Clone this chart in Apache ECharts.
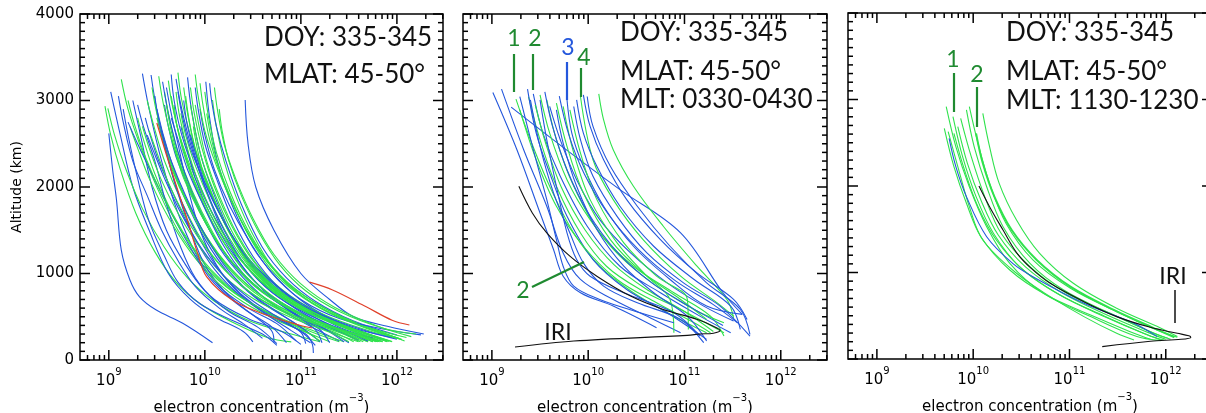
<!DOCTYPE html>
<html><head><meta charset="utf-8">
<script src="https://cdn.jsdelivr.net/npm/echarts@6/dist/echarts.min.js"></script>
<style>html,body{margin:0;padding:0;background:#fff}#c{width:1206px;height:413px}</style>
</head><body><div id="c"></div>
<script>
// ---------- axis definitions (x values are log10 of electron concentration, m^-3) ----------
const X_MIN = 8.7, X_MAX = 12.48;
const Y_MIN = 0, Y_MAX = 4000, Y_STEP = 1000, Y_MINOR_STEP = 100;
const X_MAJOR = [9, 10, 11, 12];
const X_MINOR_MANTISSA = [2, 3, 4, 5, 6, 7, 8, 9];
const X_DECADES = [8, 9, 10, 11, 12];

// ---------- panel 1 : all profiles ----------
const P1_BLUE = [
 [[9.0,2620],[9.04,2200],[9.08,1850],[9.13,1270],[9.22,925],[9.32,730],[9.49,580],[9.77,425],[10.08,200]],
 [[9.02,3100],[9.12,2600],[9.25,2000],[9.42,1500],[9.62,1000],[9.85,700],[10.1,500],[10.4,330],[10.5,210]],
 [[9.25,3000],[9.33,2600],[9.45,2000],[9.6,1500],[9.8,1100],[10.0,800],[10.25,560],[10.55,380],[10.75,190]],
 [[9.35,3310],[9.42,2900],[9.55,2300],[9.72,1700],[9.92,1200],[10.15,850],[10.45,600],[10.75,420],[10.95,220]],
 [[9.44,3295],[9.5,2900],[9.62,2400],[9.78,1900],[10.0,1400],[10.25,1000],[10.55,700],[10.9,450],[11.15,260]],
 [[9.56,3217],[9.63,2800],[9.75,2300],[9.92,1800],[10.15,1300],[10.4,950],[10.7,650],[11.05,420],[11.4,220]],
 [[9.82,3267],[9.86,2900],[9.95,2400],[10.1,1900],[10.3,1400],[10.55,1000],[10.85,700],[11.2,460],[11.6,220]],
 [[10.01,3217],[10.05,2800],[10.13,2300],[10.28,1800],[10.5,1300],[10.75,950],[11.05,650],[11.4,430],[11.85,230]],
 [[10.42,3006],[10.45,2500],[10.53,2000],[10.72,1500],[11.0,1000],[11.3,700],[11.55,500],[11.9,390],[12.28,300]],
 [[9.15,2900],[9.2,2600],[9.3,2100],[9.42,1600],[9.58,1200],[9.72,900],[9.95,650],[10.3,450],[10.6,300],[10.75,170]],
 [[9.3,2950],[9.36,2700],[9.48,2300],[9.6,1800],[9.75,1300],[9.9,950],[10.1,700],[10.45,480],[10.8,330],[11.0,180]],
 [[9.6,3150],[9.65,2850],[9.72,2500],[9.82,2000],[9.95,1500],[10.12,1100],[10.35,780],[10.65,530],[11.0,330],[11.15,170]],
 [[9.7,3250],[9.75,2950],[9.85,2500],[10.0,2000],[10.18,1500],[10.38,1100],[10.62,800],[10.95,560],[11.25,360],[11.45,210]],
 [[9.48,3050],[9.52,2750],[9.6,2400],[9.7,2000],[9.85,1500],[10.0,1100],[10.2,800],[10.45,560],[10.7,380],[10.85,200]],
 [[9.1,3050],[9.15,2750],[9.25,2300],[9.4,1900],[9.55,1500],[9.72,1150],[9.9,850],[10.15,600],[10.4,420],[10.6,250]],
 [[9.38,2800],[9.43,2600],[9.52,2300],[9.68,1900],[9.9,1400],[10.1,1050],[10.35,760],[10.65,520],[10.9,340],[11.1,200]],
 [[9.9,3150],[9.93,2900],[10.0,2500],[10.12,2100],[10.3,1600],[10.5,1200],[10.75,860],[11.05,600],[11.4,380],[11.75,250]],
 [[10.05,3200],[10.07,3000],[10.12,2700],[10.22,2300],[10.38,1800],[10.6,1300],[10.85,950],[11.15,680],[11.55,450],[12.0,290]],
 [[9.75,2700],[9.8,2500],[9.9,2100],[10.05,1700],[10.25,1300],[10.45,1000],[10.7,720],[11.0,500],[11.3,330],[11.5,200]],
 [[9.55,2650],[9.6,2400],[9.7,2000],[9.85,1600],[10.05,1200],[10.25,900],[10.5,650],[10.8,450],[11.05,300],[11.12,180],[11.13,80]],
 [[9.2,2750],[9.3,2500],[9.45,2150],[9.65,1700],[9.85,1300],[10.05,950],[10.3,680],[10.55,480],[10.7,330],[10.72,200]],
 [[9.65,2800],[9.72,2550],[9.82,2200],[9.98,1800],[10.18,1350],[10.4,1000],[10.65,750],[10.95,520],[11.2,350],[11.3,200]],
 [[9.95,2900],[10.0,2600],[10.1,2200],[10.25,1800],[10.45,1400],[10.7,1000],[11.0,700],[11.4,480],[11.9,350],[12.25,290]],
 [[9.5,2900],[9.55,2650],[9.65,2300],[9.8,1900],[10.0,1450],[10.2,1100],[10.45,800],[10.75,560],[11.0,380],[11.2,210]],
 [[9.78,3000],[9.82,2700],[9.9,2350],[10.02,1950],[10.2,1500],[10.42,1100],[10.7,780],[11.05,540],[11.45,340],[11.7,220]],
 [[9.65,3300],[9.68,3000],[9.76,2600],[9.9,2150],[10.1,1650],[10.35,1200],[10.62,860],[10.95,590],[11.3,380],[11.6,230]],
 [[9.85,2600],[9.9,2400],[10.0,2050],[10.15,1700],[10.35,1330],[10.6,1000],[10.9,730],[11.25,510],[11.7,330],[12.0,240]],
 [[9.4,2600],[9.47,2400],[9.58,2100],[9.75,1700],[9.96,1300],[10.2,970],[10.48,700],[10.78,480],[11.0,320],[11.05,190]],
 [[9.58,2950],[9.62,2700],[9.7,2350],[9.85,1950],[10.05,1500],[10.3,1100],[10.6,790],[10.92,540],[11.15,350],[11.22,200]],
 [[9.72,3100],[9.76,2850],[9.85,2450],[10.0,2050],[10.2,1600],[10.44,1180],[10.74,840],[11.1,580],[11.55,370],[11.95,260]]
];
const P1_GREEN = [
 [[8.96,2936],[9.02,2600],[9.12,2200],[9.28,1700],[9.48,1250],[9.7,900],[9.95,650],[10.3,430],[10.65,260],[10.9,210]],
 [[8.99,2910],[9.06,2600],[9.18,2200],[9.35,1750],[9.58,1300],[9.82,950],[10.1,680],[10.45,460],[10.9,300],[11.2,210]],
 [[9.13,3244],[9.2,2900],[9.32,2500],[9.5,2000],[9.72,1500],[9.98,1100],[10.3,780],[10.7,520],[11.1,330],[11.4,210]],
 [[9.72,3322],[9.76,3000],[9.85,2600],[9.98,2150],[10.15,1700],[10.38,1250],[10.65,900],[11.0,620],[11.45,380],[11.85,210]],
 [[9.58,3100],[9.63,2800],[9.72,2400],[9.87,1950],[10.07,1500],[10.3,1100],[10.6,780],[10.98,540],[11.45,330],[11.8,210]],
 [[10.08,3006],[10.12,2700],[10.2,2300],[10.32,1900],[10.5,1450],[10.72,1050],[11.0,750],[11.35,520],[11.8,340],[12.08,220]],
 [[9.4,3000],[9.47,2700],[9.58,2300],[9.75,1850],[9.96,1400],[10.2,1050],[10.5,760],[10.88,520],[11.3,330],[11.6,210]],
 [[9.85,3150],[9.89,2850],[9.97,2450],[10.1,2000],[10.28,1550],[10.5,1150],[10.78,820],[11.12,570],[11.55,360],[11.95,215]],
 [[9.65,3050],[9.7,2750],[9.8,2350],[9.95,1900],[10.15,1450],[10.4,1050],[10.7,740],[11.05,510],[11.5,320],[11.75,210]],
 [[9.3,2800],[9.36,2550],[9.48,2150],[9.66,1700],[9.88,1300],[10.12,980],[10.42,700],[10.8,480],[11.2,310],[11.45,210]],
 [[9.9,2950],[9.94,2700],[10.02,2300],[10.15,1900],[10.34,1450],[10.58,1050],[10.88,750],[11.25,520],[11.7,340],[12.0,250]],
 [[9.5,2800],[9.56,2550],[9.66,2200],[9.82,1800],[10.03,1380],[10.28,1020],[10.58,730],[10.95,500],[11.35,320],[11.55,210]],
 [[9.75,2850],[9.8,2600],[9.9,2250],[10.05,1850],[10.25,1420],[10.5,1030],[10.82,730],[11.2,500],[11.65,320],[11.9,215]],
 [[9.22,2700],[9.3,2450],[9.42,2100],[9.62,1650],[9.85,1250],[10.1,930],[10.4,670],[10.75,460],[11.1,300],[11.3,210]],
 [[10.0,3100],[10.04,2800],[10.12,2400],[10.26,1950],[10.45,1500],[10.68,1100],[10.95,790],[11.3,550],[11.75,350],[12.05,240]],
 [[9.62,3230],[9.66,2950],[9.75,2550],[9.9,2100],[10.1,1650],[10.35,1200],[10.65,850],[11.02,580],[11.5,360],[11.85,215]],
 [[9.45,3150],[9.5,2850],[9.6,2450],[9.75,2000],[9.95,1550],[10.2,1150],[10.5,820],[10.88,560],[11.35,350],[11.7,210]],
 [[9.8,3050],[9.84,2750],[9.92,2350],[10.06,1950],[10.24,1500],[10.46,1100],[10.75,780],[11.1,540],[11.55,340],[11.8,215]],
 [[9.55,2600],[9.62,2350],[9.74,2000],[9.9,1650],[10.12,1250],[10.38,930],[10.7,660],[11.08,460],[11.5,300],[11.7,210]],
 [[9.95,3200],[9.98,2950],[10.05,2550],[10.18,2100],[10.36,1650],[10.58,1250],[10.86,900],[11.2,630],[11.65,400],[12.1,260]],
 [[9.68,2950],[9.72,2650],[9.82,2250],[9.98,1800],[10.2,1350],[10.45,980],[10.75,700],[11.12,480],[11.55,310],[11.85,210]],
 [[9.35,2700],[9.42,2450],[9.54,2100],[9.72,1700],[9.95,1300],[10.2,970],[10.52,700],[10.9,490],[11.3,320],[11.5,210]],
 [[10.15,2900],[10.18,2650],[10.25,2300],[10.38,1900],[10.56,1480],[10.78,1100],[11.05,800],[11.4,560],[11.85,370],[12.2,300]],
 [[9.88,2700],[9.92,2450],[10.0,2100],[10.14,1750],[10.32,1350],[10.55,1000],[10.85,720],[11.22,500],[11.65,320],[11.95,210]],
 [[9.2,3000],[9.26,2750],[9.38,2350],[9.56,1900],[9.78,1450],[10.02,1080],[10.32,770],[10.7,520],[11.05,330],[11.2,220]],
 [[9.7,3100],[9.74,2800],[9.83,2400],[9.97,1950],[10.17,1500],[10.42,1100],[10.72,780],[11.08,540],[11.52,340],[11.78,210]],
 [[9.6,2950],[9.65,2650],[9.75,2250],[9.9,1850],[10.1,1420],[10.35,1050],[10.65,750],[11.0,520],[11.42,330],[11.65,210]],
 [[9.78,3150],[9.82,2850],[9.9,2450],[10.03,2050],[10.2,1600],[10.42,1200],[10.7,860],[11.05,600],[11.5,380],[11.9,215]],
 [[9.52,3280],[9.57,2950],[9.67,2500],[9.83,2000],[10.05,1500],[10.32,1080],[10.64,760],[11.02,520],[11.48,330],[11.82,210]],
 [[9.85,2950],[9.9,2650],[9.98,2280],[10.12,1880],[10.3,1450],[10.52,1080],[10.8,780],[11.15,540],[11.6,340],[11.92,215]],
 [[10.02,2850],[10.06,2600],[10.14,2250],[10.28,1850],[10.46,1430],[10.68,1060],[10.96,770],[11.3,540],[11.72,350],[12.05,235]],
 [[9.42,2650],[9.5,2400],[9.62,2050],[9.8,1650],[10.02,1280],[10.28,960],[10.6,690],[11.0,480],[11.42,310],[11.62,210]],
 [[9.62,2700],[9.68,2450],[9.78,2100],[9.94,1720],[10.15,1330],[10.4,990],[10.7,710],[11.06,490],[11.5,315],[11.75,210]],
 [[9.9,3300],[9.93,3050],[10.0,2650],[10.12,2250],[10.3,1780],[10.52,1330],[10.8,950],[11.15,660],[11.6,410],[12.02,250]],
 [[9.75,2550],[9.8,2350],[9.9,2050],[10.05,1700],[10.25,1330],[10.5,1000],[10.8,730],[11.18,500],[11.62,320],[11.9,210]],
 [[10.1,3150],[10.13,2900],[10.2,2500],[10.32,2100],[10.5,1640],[10.72,1220],[11.0,880],[11.35,610],[11.8,390],[12.15,270]]
];
const P1_RED = [
 [[9.5,2740],[9.62,2300],[9.81,1650],[9.92,1250],[10.02,960],[10.29,690],[10.64,520],[10.98,405],[11.12,370]],
 [[11.09,900],[11.33,810],[11.68,615],[11.95,460],[12.13,405]]
];

// ---------- panel 2 : MLT 0330-0430 ----------
const P2_BLUE = [
 [[9.01,3093],[9.26,2431],[9.5,1700],[9.64,1277],[9.74,969],[9.92,777],[10.26,623],[10.71,373]],
 [[9.10,3131],[9.33,2431],[9.57,1777],[9.74,1238],[9.92,931],[10.26,700],[10.68,469],[10.96,315]],
 [[9.2,2923],[9.75,2450],[10.33,1970],[10.96,1470],[11.4,777],[11.6,527]],
 [[9.37,3131],[9.46,2623],[9.60,2162],[9.78,1661],[10.05,1161],[10.40,815],[10.82,546],[11.23,238]],
 [[9.43,3077],[9.53,2623],[9.71,2123],[9.99,1546],[10.33,1084],[10.75,777],[11.16,507],[11.48,315]],
 [[9.60,2931],[9.71,2546],[9.88,2085],[10.12,1623],[10.44,1238],[10.82,892],[11.20,623],[11.51,450]],
 [[9.78,3008],[9.83,2623],[9.95,2239],[10.16,1777],[10.47,1315],[10.85,931],[11.23,623],[11.60,527]],
 [[9.85,2931],[9.92,2546],[10.05,2123],[10.30,1661],[10.61,1238],[10.99,892],[11.37,623],[11.68,277]],
 [[9.88,3008],[9.95,2623],[10.09,2239],[10.33,1777],[10.68,1315],[11.10,931],[11.48,623],[11.58,354]],
 [[9.95,3066],[10.02,2700],[10.16,2315],[10.40,1854],[10.75,1392],[11.13,1007],[11.51,700],[11.65,469]],
 [[9.99,3046],[10.05,2700],[10.23,2239],[10.51,1777],[10.85,1315],[11.23,892],[11.58,584],[11.68,296]],
 [[9.50,3008],[9.57,2546],[9.67,2008],[9.78,1469],[9.88,1161],[10.02,969],[10.37,777],[10.89,546],[11.16,277]],
 [[9.29,3046],[9.43,2431],[9.57,1854],[9.67,1392],[9.74,1084],[9.85,854],[10.12,700],[10.54,546],[10.89,430]],
 [[9.40,3008],[9.50,2469],[9.64,1931],[9.81,1469],[9.95,1123],[10.16,854],[10.51,661],[10.96,469],[11.20,200]],
 [[9.67,2892],[9.74,2508],[9.88,2008],[10.09,1508],[10.37,1084],[10.68,777],[11.03,507],[11.23,219]],
 [[9.55,3100],[9.63,2700],[9.78,2200],[10.0,1700],[10.3,1250],[10.65,900],[11.05,620],[11.4,400]],
 [[9.7,3050],[9.8,2600],[9.96,2150],[10.2,1700],[10.52,1280],[10.9,920],[11.3,640],[11.55,430]]
];
const P2_GREEN = [
 [[9.25,3016],[9.40,2546],[9.60,2008],[9.85,1469],[10.12,1084],[10.47,777],[10.89,507],[11.23,315]],
 [[9.38,3046],[9.50,2546],[9.67,2008],[9.92,1469],[10.19,1084],[10.54,815],[10.96,584],[11.41,315]],
 [[9.50,3066],[9.60,2623],[9.78,2085],[10.02,1623],[10.33,1200],[10.71,854],[11.10,584],[11.41,430]],
 [[9.57,3008],[9.67,2546],[9.85,2008],[10.12,1469],[10.47,1084],[10.89,777],[11.27,507],[11.41,277]],
 [[9.92,3046],[10.05,2315],[10.26,1854],[10.57,1392],[10.96,969],[11.34,661],[11.51,507]],
 [[10.11,3077],[10.16,2777],[10.26,2431],[10.47,2008],[10.78,1546],[11.13,1084],[11.44,700],[11.51,488]],
 [[9.67,2969],[9.78,2469],[9.95,1931],[10.23,1392],[10.57,1007],[10.96,700],[11.23,469]],
 [[9.29,2892],[9.46,2315],[9.67,1777],[9.95,1315],[10.30,931],[10.71,661],[11.10,430],[11.27,315]],
 [[9.74,2931],[9.85,2392],[10.02,1854],[10.30,1354],[10.61,969],[10.85,700],[10.89,315]],
 [[9.81,2892],[9.92,2392],[10.09,1854],[10.37,1354],[10.71,969],[11.03,700],[11.04,354]],
 [[9.45,2950],[9.56,2500],[9.72,2000],[9.97,1500],[10.27,1100],[10.63,800],[11.0,560],[11.3,330]]
];
const P2_IRI = [[9.28,2008],[9.42,1700],[9.57,1470],[9.81,1200],[10.09,969],[10.44,739],[10.78,585],[11.13,470],[11.3,390],[11.37,340],[11.3,310],[11.16,300],[11.03,285],[9.85,219],[9.24,150]];

// ---------- panel 3 : MLT 1130-1230 ----------
const P3_GREEN = [
 [[9.72,2917],[9.82,2455],[9.96,1992],[10.14,1530],[10.38,1106],[10.73,759],[11.22,490],[11.70,259],[11.95,212]],
 [[9.74,2628],[9.86,2146],[9.96,1761],[10.10,1376],[10.45,991],[10.80,721],[11.15,490],[11.49,297],[11.67,220]],
 [[9.79,2801],[9.89,2339],[10.03,1877],[10.21,1453],[10.48,1068],[10.87,759],[11.36,490],[11.81,278],[11.98,220]],
 [[9.87,2782],[9.98,2339],[10.12,1877],[10.29,1453],[10.59,1068],[10.97,759],[11.46,509],[11.88,297],[12.05,228]],
 [[9.96,2917],[10.05,2493],[10.17,2031],[10.34,1569],[10.62,1145],[11.01,817],[11.49,547],[11.91,336],[12.12,251]],
 [[10.10,2840],[10.17,2455],[10.27,2031],[10.45,1607],[10.69,1222],[11.04,875],[11.49,586],[11.95,355],[12.12,259]],
 [[9.70,2667],[9.80,2224],[9.93,1800],[10.08,1414],[10.38,1029],[10.76,740],[11.22,509],[11.63,316],[11.84,228]],
 [[9.80,2609],[9.91,2185],[10.05,1761],[10.24,1376],[10.52,1029],[10.90,740],[11.36,497],[11.77,297],[11.95,220]],
 [[9.93,2879],[10.01,2455],[10.14,1992],[10.31,1530],[10.59,1106],[10.94,798],[11.42,528],[11.84,316],[12.02,239]],
 [[9.84,2686],[9.94,2262],[10.08,1838],[10.26,1434],[10.54,1068],[10.92,767],[11.39,509],[11.82,305],[12.00,228]]
];
const P3_GREEN_BOLD = [
 [[10.03,2609],[10.10,2262],[10.22,1877],[10.40,1491],[10.66,1145],[11.01,836],[11.46,567],[11.88,355],[12.09,251]]
];
const P3_BLUE = [
 [[9.75,2551],[9.82,2224],[9.93,1877],[10.14,1414],[10.41,1106],[10.62,952],[11.15,644],[11.67,413],[11.91,259]]
];
const P3_IRI = [[10.06,2000],[10.17,1761],[10.31,1491],[10.45,1230],[10.6,1050],[10.8,875],[11.15,663],[11.49,490],[11.84,366],[12.12,297],[12.24,268],[12.26,250],[12.16,228],[11.84,205],[11.34,143]];

// ---------- text ----------
const PANEL_TEXT = [
 ['DOY: 335-345', 'MLAT: 45-50°'],
 ['DOY: 335-345', 'MLAT: 45-50°', 'MLT: 0330-0430'],
 ['DOY: 335-345', 'MLAT: 45-50°', 'MLT: 1130-1230']
];

// ---------- build ----------
const BLUE = '#2457dc', GREEN = '#2fe24c', DKGREEN = '#1f8a30', RED = '#e0402a';
const AXIS_FONT = 'DejaVu Sans', NOTE_FONT = 'Lato';
const GRIDS = [
 {left: 80, top: 14, width: 363, height: 346},
 {left: 463, top: 14, width: 364, height: 346},
 {left: 848, top: 13, width: 364, height: 346}
];

const xMinor = [];
X_DECADES.forEach(d => X_MINOR_MANTISSA.forEach(m => {
  const v = d + Math.log10(m);
  if (v > X_MIN && v < X_MAX) xMinor.push(v);
}));

const supRich = {
  b: {fontSize: 15, fontFamily: AXIS_FONT, color: '#000', lineHeight: 22, verticalAlign: 'bottom'},
  s: {fontSize: 10, fontFamily: AXIS_FONT, color: '#000', lineHeight: 12, verticalAlign: 'top'}
};

const grid = GRIDS.map(g => Object.assign({show: true, borderColor: '#000', borderWidth: 1.5, containLabel: false, outerBoundsMode: 'none'}, g));
const xAxis = GRIDS.map((g, i) => ({
  type: 'value', gridIndex: i, min: X_MIN, max: X_MAX, splitNumber: 4,
  axisLine: {show: false}, axisTick: {show: false}, splitLine: {show: false},
  axisLabel: {
    margin: 7,
    formatter: v => Math.abs(v - Math.round(v)) < 1e-6 ? '{b|10}{s|' + Math.round(v) + '}' : '',
    rich: supRich
  },
  name: '{b|electron concentration (m}{s|−3}{b|)}',
  nameLocation: 'middle', nameGap: 23,
  nameTextStyle: {rich: supRich}
}));
const yAxis = GRIDS.map((g, i) => ({
  type: 'value', gridIndex: i, min: Y_MIN, max: Y_MAX, interval: Y_STEP,
  axisLine: {show: false}, axisTick: {show: false}, splitLine: {show: false},
  axisLabel: {show: i === 0, fontSize: 15, fontFamily: AXIS_FONT, color: '#000', margin: 6, formatter: v => String(v)},
  name: i === 0 ? 'Altitude (km)' : '', nameLocation: 'middle', nameGap: 56, nameRotate: 90,
  nameTextStyle: {fontSize: 14, fontFamily: AXIS_FONT, color: '#000'}
}));

const series = [];
const firstSeriesOfGrid = [];
function addCurves(curves, color, gi, width) {
  curves.forEach(c => {
    if (firstSeriesOfGrid[gi] === undefined) firstSeriesOfGrid[gi] = series.length;
    series.push({
      type: 'line', xAxisIndex: gi, yAxisIndex: gi, data: c,
      showSymbol: false, smooth: 0.35, silent: true, z: 2,
      lineStyle: {color: color, width: width || 1.1}
    });
  });
}
function interleave(a, ca, b, cb, gi) {
  const n = Math.max(a.length, b.length);
  for (let i = 0; i < n; i++) {
    if (a[i]) addCurves([a[i]], ca, gi);
    if (b[i]) addCurves([b[i]], cb, gi);
  }
}
interleave(P1_BLUE, BLUE, P1_GREEN, GREEN, 0);
addCurves(P1_RED, RED, 0, 1.2);
interleave(P2_BLUE, BLUE, P2_GREEN, GREEN, 1);
addCurves([P2_IRI], '#111', 1, 1.1);
addCurves(P3_GREEN, GREEN, 2);
addCurves(P3_BLUE, BLUE, 2);
addCurves(P3_GREEN_BOLD, GREEN, 2, 2);
addCurves([P3_IRI], '#111', 2, 1.1);

const chart = echarts.init(document.getElementById('c'), null, {renderer: 'canvas'});
chart.setOption({animation: false, backgroundColor: '#fff', grid, xAxis, yAxis, series});

// ---------- ticks on all four edges (positions from the chart's own scales) + annotations ----------
const graphic = [];
function seg(x1, y1, x2, y2, color, w, z) {
  graphic.push({type: 'line', z: z || 10, silent: true, shape: {x1: x1, y1: y1, x2: x2, y2: y2}, style: {stroke: color, lineWidth: w}});
}
function px(gi, pt) {
  let p = chart.convertToPixel({seriesIndex: firstSeriesOfGrid[gi]}, pt);
  if (!p || !isFinite(p[0]) || !isFinite(p[1])) p = chart.convertToPixel({xAxisIndex: gi, yAxisIndex: gi}, pt);
  return p;
}
const MAJOR_LEN = 10, MINOR_LEN = 5, TICK_W = 1.5;
GRIDS.forEach((g, i) => {
  X_MAJOR.map(v => [v, MAJOR_LEN]).concat(xMinor.map(v => [v, MINOR_LEN])).forEach(([v, len]) => {
    const b = px(i, [v, Y_MIN]), t = px(i, [v, Y_MAX]);
    if (!b || !t) return;
    seg(b[0], b[1], b[0], b[1] - len, '#000', TICK_W, 8);
    seg(t[0], t[1], t[0], t[1] + len, '#000', TICK_W, 8);
  });
  for (let y = Y_MIN; y <= Y_MAX; y += Y_MINOR_STEP) {
    const len = y % Y_STEP === 0 ? MAJOR_LEN : MINOR_LEN;
    const l = px(i, [X_MIN, y]), r = px(i, [X_MAX, y]);
    if (!l || !r) continue;
    seg(l[0], l[1], l[0] + len, l[1], '#000', TICK_W, 8);
    seg(r[0], r[1], r[0] - len, r[1], '#000', TICK_W, 8);
  }
});
function txt(s, x, y, size, color, align) {
  graphic.push({type: 'text', x: x, y: y, z: 10, silent: true,
    style: {text: s, fontSize: size, fontFamily: NOTE_FONT, fill: color,
      textAlign: align || 'left', textVerticalAlign: 'middle', align: align || 'left', verticalAlign: 'middle'}});
}
const NOTE_POS = [[264, [38, 75]], [620, [33, 72, 100]], [1006, [33, 72, 101]]];
PANEL_TEXT.forEach((lines, p) => lines.forEach((s, k) => txt(s, NOTE_POS[p][0], NOTE_POS[p][1][k], 26, '#111')));
// panel 2 labels
txt('1', 514, 39, 23, DKGREEN, 'center'); seg(514, 54, 514, 92, DKGREEN, 2.2);
txt('2', 535, 39, 23, DKGREEN, 'center'); seg(533, 54, 533, 90, DKGREEN, 2.2);
txt('3', 568, 48, 23, BLUE, 'center');    seg(567, 62, 567, 100, BLUE, 2.2);
txt('4', 584, 58, 23, DKGREEN, 'center'); seg(581, 68, 581, 97, DKGREEN, 2.2);
txt('2', 523, 291, 23, DKGREEN, 'center'); seg(532, 287, 584, 262, DKGREEN, 2.2);
txt('IRI', 558, 333, 23, '#111', 'center');
// panel 3 labels
txt('1', 953, 60, 23, DKGREEN, 'center'); seg(954, 73, 954, 112, DKGREEN, 2.2);
txt('2', 977, 75, 23, DKGREEN, 'center'); seg(977, 87, 977, 127, DKGREEN, 2.2);
txt('IRI', 1173, 277, 23, '#111', 'center'); seg(1175, 290, 1175, 323, '#111', 1.5);

chart.setOption({graphic: graphic});
</script></body></html>
